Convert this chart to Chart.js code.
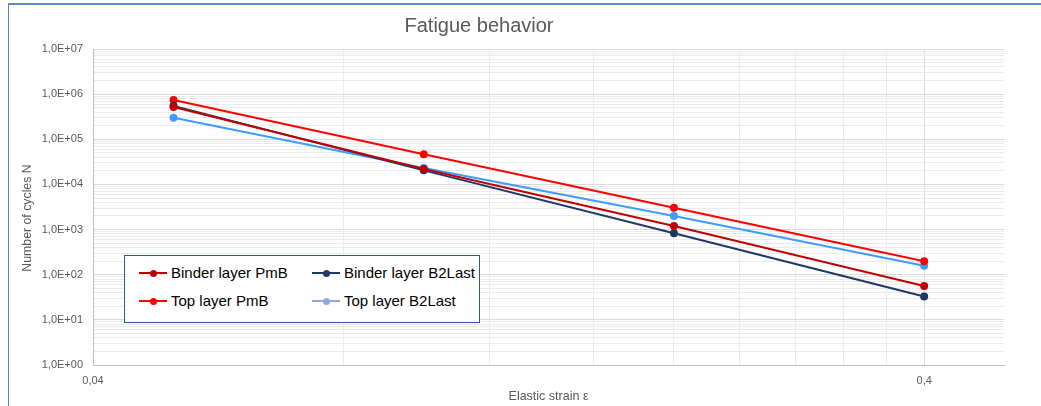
<!DOCTYPE html>
<html lang="en">
<head>
    <meta charset="UTF-8">
    <title>Fatigue behavior</title>
    <script src="https://cdn.jsdelivr.net/npm/chart.js"></script>
    <style>
        body { margin: 0; background: #fff; font-family: 'Liberation Sans', Arial, sans-serif; }
        #frame { position: absolute; left: 8px; top: 3px; width: 1100px; height: 500px;
                 border-top: 2px solid #5b8ac6; border-left: 1px solid #4f81bd; }
        #chart { position: absolute; left: 0; top: 0; }
        #legend { position: absolute; left: 124px; top: 255px; width: 354px; height: 66px;
                  border: 1px solid #2f5597; background: #fff; }
        .item { position: absolute; height: 20px; line-height: 20px; font-size: 15px; color: #000; white-space: nowrap; }
        .sym { position: absolute; left: 0; top: 9px; width: 28px; height: 2px; }
        .dot { position: absolute; left: 10.5px; top: -2.5px; width: 7px; height: 7px; border-radius: 50%; }
        .txt { position: absolute; left: 32px; top: 0; }
    </style>
</head>
<body>
    <div id="frame"></div>
    <canvas id="chart" width="1041" height="406"></canvas>
    <div id="legend"></div>

    <script>
        // data
        const strain = [0.05, 0.1, 0.2, 0.4];
        const binderPmB = [520000, 22000, 1200, 56];
        const binderB2Last = [550000, 20500, 830, 33];
        const topPmB = [740000, 46500, 3050, 198];
        const topB2Last = [300000, 23000, 2000, 158];

        const seriesNames = ['Binder layer PmB', 'Binder layer B2Last', 'Top layer PmB', 'Top layer B2Last'];
        const lineColors = ['#c00000', '#1f3864', '#ff0000', '#3d9cff'];
        const legendColors = ['#c00000', '#1f3864', '#ff0000', '#8faadc'];

        const xTickLabels = ['0,04', '0,4'];
        const yTickLabels = ['1,0E+00', '1,0E+01', '1,0E+02', '1,0E+03', '1,0E+04', '1,0E+05', '1,0E+06', '1,0E+07'];

        const FONT = "'Liberation Sans', Arial, sans-serif";
        const GREY = '#595959';

        function isDecade(v, base) {
            const l = Math.log10(v / base);
            return Math.abs(l - Math.round(l)) < 1e-6;
        }

        // major + minor log ticks (1..9 per decade)
        function logTicks(base, decades) {
            const t = [];
            for (let d = 0; d < decades; d++) {
                for (let k = 1; k <= 9; k++) t.push({ value: k * base * Math.pow(10, d) });
            }
            t.push({ value: base * Math.pow(10, decades) });
            return t;
        }

        const allSeries = [binderPmB, binderB2Last, topPmB, topB2Last];
        const datasets = allSeries.map((vals, i) => ({
            label: seriesNames[i],
            data: strain.map((x, j) => ({ x: x, y: vals[j] })),
            borderColor: lineColors[i],
            backgroundColor: lineColors[i],
            borderWidth: 2,
            pointRadius: 3,
            pointHoverRadius: 3,
            showLine: true,
            tension: 0
        }));

        const titles = {
            id: 'titles',
            afterDraw(chart) {
                const ctx = chart.ctx;
                ctx.save();
                ctx.fillStyle = GREY;
                ctx.textAlign = 'center';
                ctx.textBaseline = 'alphabetic';
                ctx.font = '20px ' + FONT;
                ctx.fillText('Fatigue behavior', 479, 32);
                ctx.translate(27.5, 218);
                ctx.rotate(-Math.PI / 2);
                ctx.textBaseline = 'middle';
                ctx.font = '12.3px ' + FONT;
                ctx.fillText('Number of cycles N', 0, 0);
                ctx.restore();
            }
        };

        const chart = new Chart(document.getElementById('chart'), {
            type: 'scatter',
            data: { datasets: datasets },
            plugins: [titles],
            options: {
                responsive: false,
                animation: false,
                devicePixelRatio: 1,
                layout: { padding: { left: 0, right: 37, top: 49, bottom: 0 } },
                plugins: { legend: { display: false }, tooltip: { enabled: false } },
                scales: {
                    x: {
                        type: 'logarithmic',
                        min: 0.04,
                        max: 0.499,
                        afterBuildTicks: s => { s.ticks = logTicks(0.04, 1); },
                        afterFit: s => { s.height = 41; },
                        grid: {
                            drawTicks: false,
                            color: c => (c.tick && isDecade(c.tick.value, 0.04)) ? '#d9d9d9' : '#ebebeb'
                        },
                        border: { color: '#bfbfbf', width: 1 },
                        ticks: {
                            autoSkip: false,
                            maxRotation: 0,
                            padding: 9,
                            color: GREY,
                            font: { family: FONT, size: 11 },
                            callback: function (v) {
                                if (!isDecade(v, 0.04)) return '';
                                return xTickLabels[Math.round(Math.log10(v / 0.04))];
                            }
                        },
                        title: {
                            display: true,
                            text: 'Elastic strain ε',
                            color: GREY,
                            font: { family: FONT, size: 12.5, lineHeight: 1.2 },
                            padding: { top: 0, bottom: 2 }
                        }
                    },
                    y: {
                        type: 'logarithmic',
                        min: 1,
                        max: 1e7,
                        afterBuildTicks: s => { s.ticks = logTicks(1, 7); },
                        afterFit: s => { s.width = 93; },
                        grid: {
                            drawTicks: false,
                            color: c => (c.tick && isDecade(c.tick.value, 1)) ? '#d9d9d9' : '#ebebeb'
                        },
                        border: { color: '#bfbfbf', width: 1 },
                        ticks: {
                            autoSkip: false,
                            padding: 10,
                            color: GREY,
                            font: { family: FONT, size: 11 },
                            callback: function (v) {
                                if (!isDecade(v, 1)) return '';
                                return yTickLabels[Math.round(Math.log10(v))];
                            }
                        }
                    }
                }
            }
        });

        // legend box, built from the chart's datasets
        const legend = document.getElementById('legend');
        const cols = [14, 187];
        const rows = [7, 35];
        chart.data.datasets.forEach((ds, i) => {
            const item = document.createElement('div');
            item.className = 'item';
            item.style.left = cols[i % 2] + 'px';
            item.style.top = rows[Math.floor(i / 2)] + 'px';
            const sym = document.createElement('span');
            sym.className = 'sym';
            sym.style.background = legendColors[i];
            const dot = document.createElement('span');
            dot.className = 'dot';
            dot.style.background = legendColors[i];
            sym.appendChild(dot);
            const txt = document.createElement('span');
            txt.className = 'txt';
            txt.textContent = ds.label;
            item.appendChild(sym);
            item.appendChild(txt);
            legend.appendChild(item);
        });
    </script>
</body>
</html>
